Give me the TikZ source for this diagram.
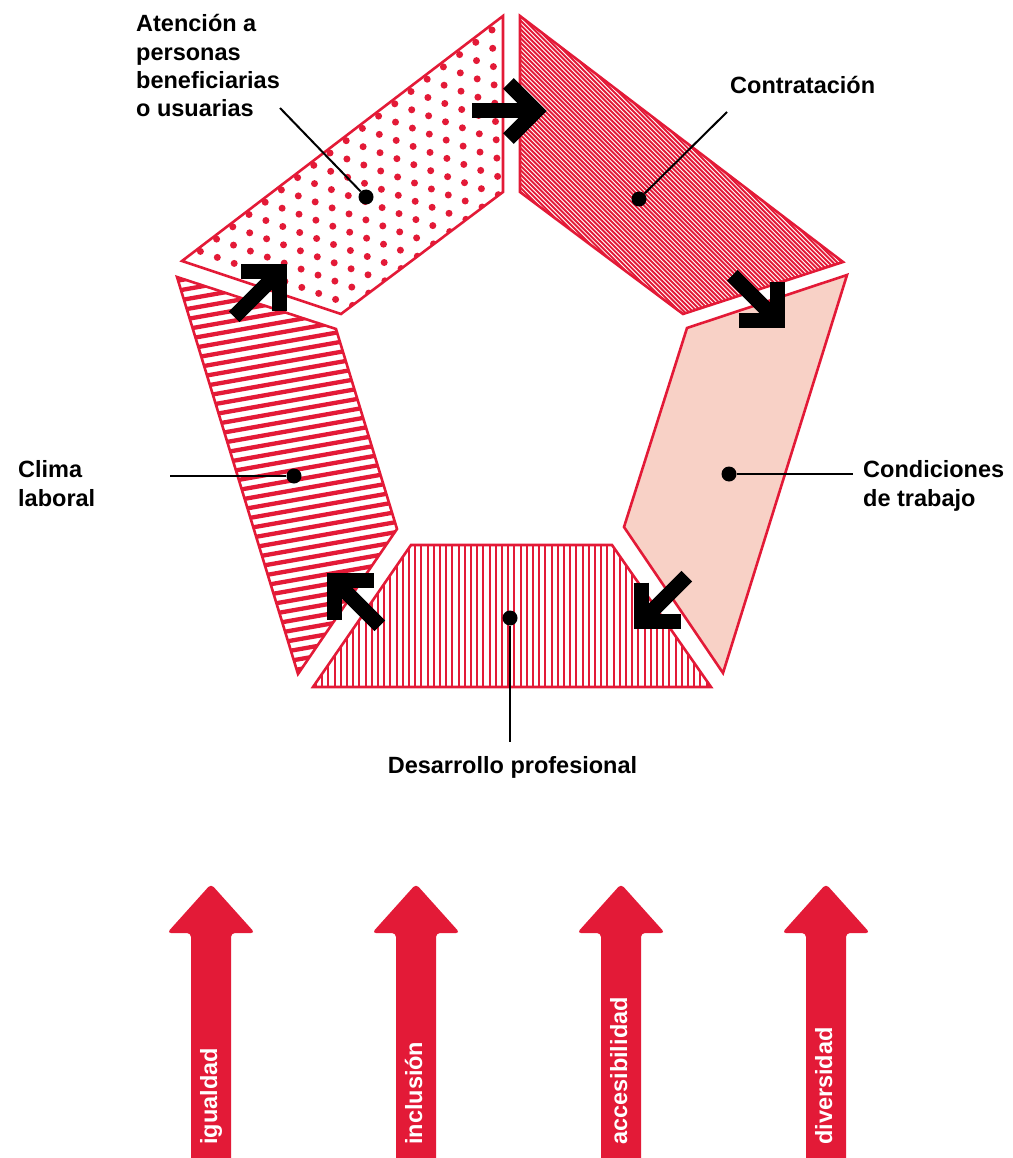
\documentclass[tikz,border=0pt]{standalone}
\usepackage{fontspec}
\setmainfont{Liberation Sans}
\usetikzlibrary{calc}
\definecolor{cred}{RGB}{227,26,55}
\definecolor{cpink}{RGB}{248,209,198}
\begin{document}
\begin{tikzpicture}[x=1pt,y=-1pt,
  outline/.style={draw=cred,line width=2.6pt,line join=miter},
  hatch/.style={draw=cred},
  flowarrow/.style={draw=black,line width=15pt,line join=miter,miter limit=4},
  lbl/.style={font=\fontsize{23.5}{28.4}\selectfont\bfseries,inner sep=0pt,align=left},
  pin/.style={circle,fill=black,inner sep=0pt,minimum size=15pt},
  leader/.style={draw=black,line width=2pt},
  bigarrow/.style={fill=cred,rounded corners=4pt},
  arrowtxt/.style={font=\fontsize{23.5}{28}\selectfont\bfseries,text=white,rotate=90,anchor=base west,inner sep=0pt}]
\useasboundingbox (0,0) rectangle (1012,1158);

% --- Atencion (dots)
\begin{scope}
\clip (182,261) -- (503,16) -- (503,192) -- (341,314) -- cycle;
\foreach \i in {0,...,21}{\foreach \j in {-18,...,14}{
  \fill[cred] ({492.7-16.2*\i+0.7*\j},{48.3+12.3*\i+18.3*\j}) circle[radius=3.5pt];
}}
\end{scope}
\draw[outline] (182,261) -- (503,16) -- (503,192) -- (341,314) -- cycle;

% --- Contratacion (fine diagonal hatch)
\begin{scope}
\clip (520,16) -- (843,262) -- (683,314) -- (520,192) -- cycle;
\foreach \c in {-830,-825.6,...,-200}{
  \draw[hatch,line width=1.9pt] (500,{500+\c}) -- (870,{870+\c});
}
\end{scope}
\draw[outline] (520,16) -- (843,262) -- (683,314) -- (520,192) -- cycle;

% --- Condiciones (pink)
\draw[outline,fill=cpink] (847,275) -- (723,673) -- (624,527) -- (687,328) -- cycle;

% --- Desarrollo (vertical lines)
\begin{scope}
\clip (411,545) -- (612,545) -- (711,687) -- (313,687) -- cycle;
\foreach \x in {316,322.2,...,712}{
  \draw[hatch,line width=2pt] (\x,540) -- (\x,690);
}
\end{scope}
\draw[outline] (411,545) -- (612,545) -- (711,687) -- (313,687) -- cycle;

% --- Clima (tilted stripes)
\begin{scope}
\clip (177,277) -- (336,329) -- (397,529) -- (298,674) -- cycle;
\foreach \y in {262,272,...,740}{
  \draw[hatch,line width=4.3pt] (170,\y) -- (400,{\y-40.6});
}
\end{scope}
\draw[outline] (177,277) -- (336,329) -- (397,529) -- (298,674) -- cycle;

% --- black flow arrows
\foreach \ax/\ay/\th in {536/111/0, 777.5/320.5/45, 641.5/621.5/135, 334.5/580.5/225, 279.5/271.5/315}{
  \coordinate (A) at (\ax,\ay);
  \draw[flowarrow] (A) -- ++({\th+180}:64);
  \draw[flowarrow] ($(A)+({\th+135}:39)$) -- (A) -- ($(A)+({\th-135}:39)$);
}

% --- pins, leaders, labels
\node[pin] (pinA) at (366,197) {};
\node[pin] (pinC) at (639,199) {};
\node[pin] (pinT) at (729,474) {};
\node[pin] (pinD) at (510,618) {};
\node[pin] (pinL) at (294,476) {};
\coordinate (endA) at (280,108);
\coordinate (endC) at (727,112);
\coordinate (endT) at (853,474);
\coordinate (endD) at (510,742);
\coordinate (endL) at (170,476);
\draw[leader] (endA) -- (pinA);
\draw[leader] (endC) -- (pinC);
\draw[leader] (pinT) -- (endT);
\draw[leader] (pinD) -- (endD);
\draw[leader] (endL) -- (pinL);

\node[lbl,anchor=base west] (labA) at (136,116.9) {Atención a\\personas\\beneficiarias\\o usuarias};
\node[lbl,anchor=base west] (labC) at (730,94) {Contratación};
\node[lbl,anchor=base west] (labT) at (863,506) {Condiciones\\de trabajo};
\node[lbl,anchor=base west] (labL) at (18,506) {Clima\\laboral};
\node[lbl,anchor=base] (labD) at (512.5,773) {Desarrollo profesional};

% --- bottom arrows
\foreach \cx/\t in {211/igualdad,416/inclusión,621/accesibilidad,826/diversidad}{
  \fill[bigarrow] ({\cx-20},1175) -- ({\cx-20},933) -- ({\cx-44},933) -- (\cx,884) -- ({\cx+44},933) -- ({\cx+20},933) -- ({\cx+20},1175) -- cycle;
  \node[arrowtxt] (t\cx) at ({\cx+6},1145) {\t};
}
\end{tikzpicture}
\end{document}
